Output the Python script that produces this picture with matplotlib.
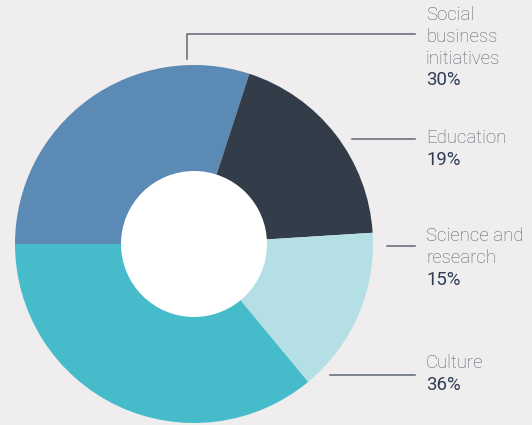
import matplotlib.pyplot as plt
from matplotlib.patches import Circle

categories = ["Social\nbusiness\ninitiatives", "Education", "Science and\nresearch", "Culture"]
shares = [30, 19, 15, 36]
colors = ["#5b8ab4", "#333d4a", "#b4dfe4", "#46bbc9"]

W, H = 532, 425
BG = "#efedee"
LINE = "#5f6672"
NAME = "#5a606b"
PCT = "#2e3d55"


def py(y):
    # pixel rows are counted from the top
    return H - y


fig = plt.figure(figsize=(W / 100, H / 100), dpi=100, facecolor=BG)
ax = fig.add_axes([0, 0, 1, 1])
ax.set_facecolor(BG)

cx, cy, r_out, r_in = 194, py(244), 179, 73
ax.pie(shares, colors=colors, startangle=180, counterclock=False,
       center=(cx, cy), radius=r_out,
       wedgeprops=dict(linewidth=0, antialiased=True))
ax.add_patch(Circle((cx, cy), r_in, facecolor="white", edgecolor="none", zorder=5))

# leader lines
ax.plot([187, 187, 415], [py(59), py(34), py(34)], color=LINE, lw=1.1)
ax.plot([352, 415], [py(139), py(139)], color=LINE, lw=1.1)
ax.plot([387, 415], [py(246), py(246)], color=LINE, lw=1.1)
ax.plot([330, 415], [py(375), py(375)], color=LINE, lw=1.1)

# label blocks: first text row centre for each category
first_rows = [15, 138, 236, 363]
step = 21.8
tx = 426
for name, val, y0 in zip(categories, shares, first_rows):
    lines = name.split("\n")
    for i, ln in enumerate(lines):
        ax.text(tx, py(y0 + i * step), ln, ha="left", va="center",
                fontsize=13.4, family="Roboto", fontweight="light", color=NAME)
    ax.text(tx, py(y0 + len(lines) * step), f"{val}%", ha="left", va="center",
            fontsize=13.4, family="Roboto", color=PCT)

ax.set_xlim(0, W)
ax.set_ylim(0, H)
ax.set_aspect("equal")
ax.axis("off")

fig.savefig("out.png", dpi=100, facecolor=BG)
